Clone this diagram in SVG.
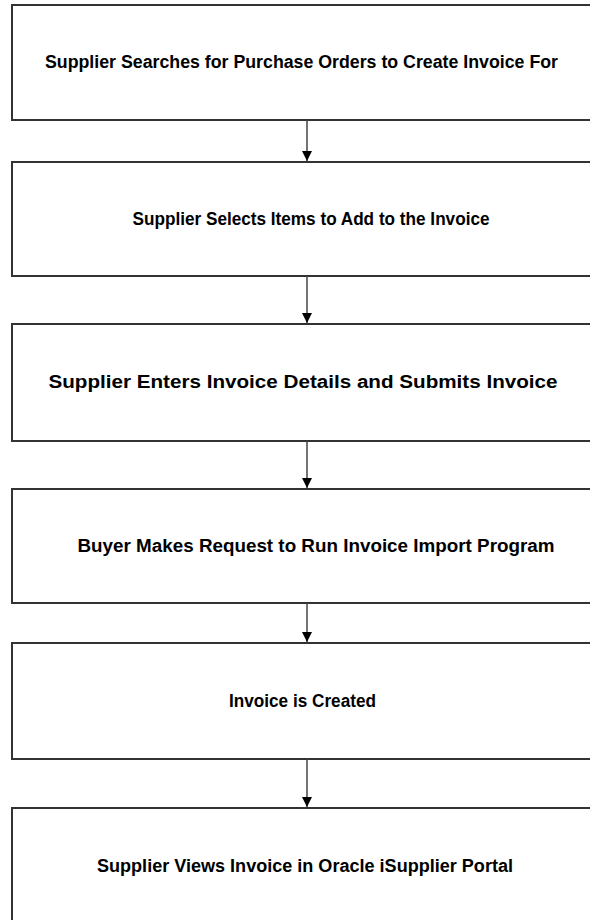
<svg xmlns="http://www.w3.org/2000/svg" width="590" height="920" viewBox="0 0 590 920">
<style>
.box{fill:#fff;stroke:#333;stroke-width:2}
.lbl{font-family:"Liberation Sans",Arial,sans-serif;font-size:18px;font-weight:bold;fill:#000;text-anchor:middle;dominant-baseline:central}
.conn{stroke:#444;stroke-width:1.5;fill:none}
</style>
<defs>
<marker id="ah" viewBox="0 0 10 10" refX="10" refY="5" markerWidth="10" markerHeight="10" markerUnits="userSpaceOnUse" orient="auto">
<path d="M0,0 L10,5 L0,10 Z" fill="#000"/>
</marker>
</defs>
<rect width="590" height="920" fill="#fff"/>
<g id="n1"><path class="box" d="M590,5 H12 V120 H590"/><text class="lbl" x="301.5" y="62" textLength="513" lengthAdjust="spacingAndGlyphs">Supplier Searches for Purchase Orders to Create Invoice For</text></g>
<g id="n2"><path class="box" d="M590,162 H12 V276 H590"/><text class="lbl" x="311" y="219" textLength="357" lengthAdjust="spacingAndGlyphs">Supplier Selects Items to Add to the Invoice</text></g>
<g id="n3"><path class="box" d="M590,324 H12 V441 H590"/><text class="lbl" x="303" y="382" textLength="509" lengthAdjust="spacingAndGlyphs">Supplier Enters Invoice Details and Submits Invoice</text></g>
<g id="n4"><path class="box" d="M590,489 H12 V603 H590"/><text class="lbl" x="316" y="546" textLength="477" lengthAdjust="spacingAndGlyphs">Buyer Makes Request to Run Invoice Import Program</text></g>
<g id="n5"><path class="box" d="M590,643 H12 V759 H590"/><text class="lbl" x="302.5" y="701" textLength="147" lengthAdjust="spacingAndGlyphs">Invoice is Created</text></g>
<g id="n6"><path class="box" d="M590,808 H12 V920"/><text class="lbl" x="305" y="866" textLength="416" lengthAdjust="spacingAndGlyphs">Supplier Views Invoice in Oracle iSupplier Portal</text></g>
<g id="connectors">
<line class="conn" x1="307" y1="120" x2="307" y2="161" marker-end="url(#ah)"/>
<line class="conn" x1="307" y1="276" x2="307" y2="323" marker-end="url(#ah)"/>
<line class="conn" x1="307" y1="441" x2="307" y2="488" marker-end="url(#ah)"/>
<line class="conn" x1="307" y1="603" x2="307" y2="642" marker-end="url(#ah)"/>
<line class="conn" x1="307" y1="759" x2="307" y2="807" marker-end="url(#ah)"/>
</g>
</svg>
